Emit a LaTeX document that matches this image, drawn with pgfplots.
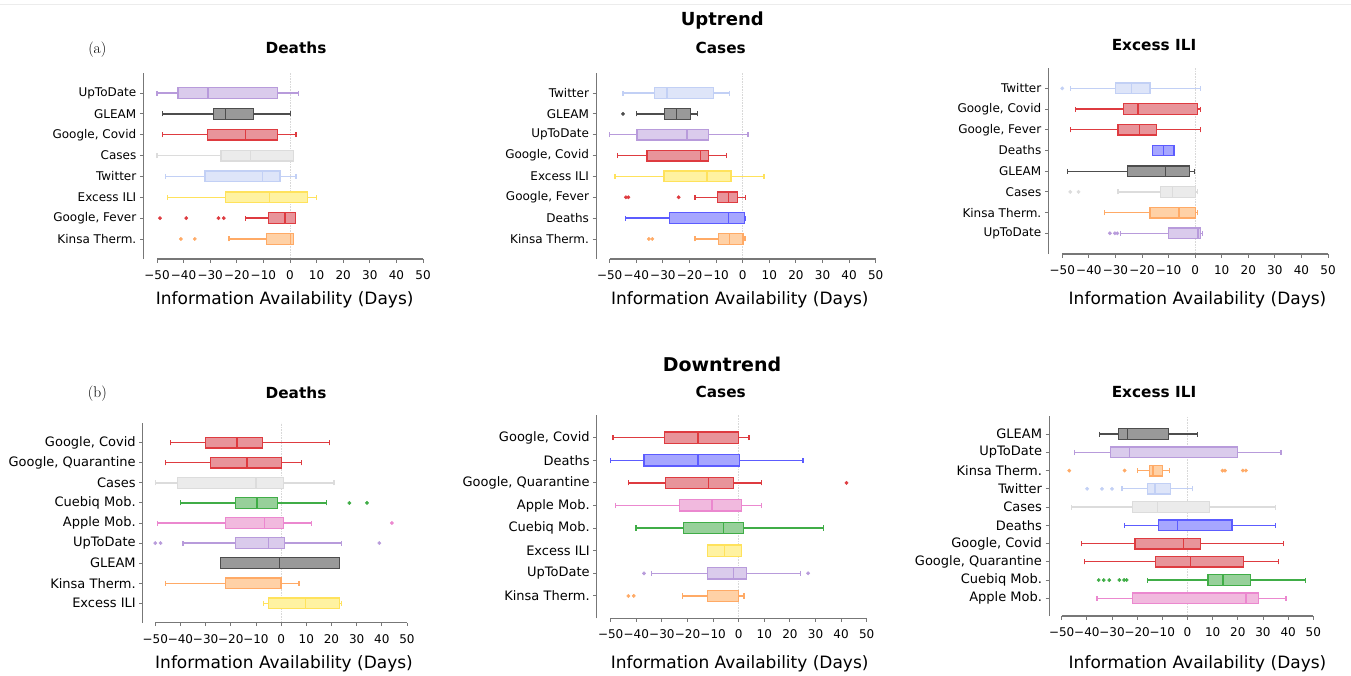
\documentclass[border=0pt]{standalone}
\usepackage{pgfplots}
\pgfplotsset{compat=1.18}
\usepgfplotslibrary{statistics}
\usepackage{fontspec}
\newfontfamily\dv{DejaVu Sans}
\newcommand{\fs}[1]{\fontsize{#1}{#1}\selectfont}
\definecolor{upL}{HTML}{B89BDB}\definecolor{upF}{HTML}{DACBEC}
\definecolor{glL}{HTML}{4D4D4D}\definecolor{glF}{HTML}{999999}
\definecolor{goL}{HTML}{DE3B40}\definecolor{goF}{HTML}{E8949A}
\definecolor{caL}{HTML}{DCDCDC}\definecolor{caF}{HTML}{EBEBEB}
\definecolor{twL}{HTML}{C2D0F5}\definecolor{twF}{HTML}{DEE5F9}
\definecolor{exL}{HTML}{FFE25C}\definecolor{exF}{HTML}{FFF2A1}
\definecolor{deL}{HTML}{5C5CFF}\definecolor{deF}{HTML}{A6A6FF}
\definecolor{kiL}{HTML}{FFAA66}\definecolor{kiF}{HTML}{FFD1A6}
\definecolor{cuL}{HTML}{40AD47}\definecolor{cuF}{HTML}{97D09A}
\definecolor{apL}{HTML}{EB88CF}\definecolor{apF}{HTML}{F1B9DE}
\definecolor{axg}{HTML}{777777}
\definecolor{zg}{HTML}{D8D8D8}
\pgfplotsset{
  bx/.style={mark=none, solid, line width=1.3pt, draw=#1L, fill=#1F,
    boxplot/every box/.style={draw=#1L, fill=#1F, line width=1.3pt},
    boxplot/every whisker/.style={draw=#1L, line width=1.3pt},
    boxplot/every median/.style={draw=#1L, line width=1.5pt}},
  ol/.style={only marks, mark=*, mark size=1.7pt, draw=#1L, fill=#1L, mark options={draw=#1L, fill=#1L}},
  panel/.style={
    scale only axis, anchor=south west, xmax=50,
    axis x line*=bottom, axis y line*=left,
    x axis line style={draw=none},
    y axis line style={draw=axg, line width=1pt},
    xtick={-50,-40,...,50},
    xticklabels={−50,−40,−30,−20,−10,0,10,20,30,40,50},
    tick align=outside, major tick length=3.5pt,
    tick style={draw=axg, line width=0.9pt},
    xticklabel style={font=\dv\fs{12}, text=black, yshift=-4.5pt},
    clip=false,
    boxplot/draw direction=x,
  }
}
\newcommand{\bp}[7]{\addplot[bx=#1, boxplot prepared={draw position=#2, lower whisker=#3, lower quartile=#4, median=#5, upper quartile=#6, upper whisker=#7}] coordinates {};}
\begin{document}
\begin{tikzpicture}[x=1pt,y=-1pt]
\useasboundingbox (0,0) rectangle (1351,675);
\draw[gray!15, line width=0.6pt] (0,4) -- (1351,4);
% ---------- titles ----------
\node[anchor=base, font=\dv\bfseries\fs{18}] at (722.3,25) {Uptrend};
\node[anchor=base, font=\dv\bfseries\fs{19}] at (722,371.7) {Downtrend};
\node[anchor=base, font=\fs{15.5}] at (97.3,53.4) {(a)};
\node[anchor=base, font=\fs{15.5}] at (97.3,397) {(b)};
\node[anchor=base, font=\dv\bfseries\fs{15.3}] at (296,53.3) {Deaths};
\node[anchor=base, font=\dv\bfseries\fs{15.3}] at (720.7,53.3) {Cases};
\node[anchor=base, font=\dv\bfseries\fs{15.3}] at (1154,50.3) {Excess ILI};
\node[anchor=base, font=\dv\bfseries\fs{15.3}] at (296,398.3) {Deaths};
\node[anchor=base, font=\dv\bfseries\fs{15.3}] at (720.7,397.7) {Cases};
\node[anchor=base, font=\dv\bfseries\fs{15.3}] at (1154,397.7) {Excess ILI};
\foreach \xx/\yy in {284.7/304, 739.8/304, 1197.5/304, 284/668.3, 739.7/668.3, 1197.5/668.3}
  \node[anchor=base, font=\dv\fs{17}] at (\xx,\yy) {Information Availability (Days)};

% ---------- Panel 1: Uptrend / Deaths ----------
\begin{axis}[panel, at={(143.3pt,-259pt)}, width=279.7pt, height=186pt,
  xmin=-55.15, ymin=0.04, ymax=8.96, ytick={1,...,8},
  yticklabels={Kinsa Therm., {Google, Fever}, Excess ILI, Twitter, Cases, {Google, Covid}, GLEAM, UpToDate},
  yticklabel style={font=\dv\fs{12}, text=black},
  boxplot/box extend=0.51, boxplot/whisker extend=0.24]
\draw[densely dotted, zg, line width=0.6pt] (axis cs:0,0.04) -- (axis cs:0,8.96);
\draw[axg, line width=1.2pt] (axis cs:-50,0.04) -- (axis cs:50,0.04);
\bp{ki}{1}{-22.9}{-8.9}{0.1}{1.3}{1.3}
\addplot[ol=ki] coordinates {(-41,1) (-35.8,1)};
\bp{go}{2}{-16.8}{-8.1}{-1.8}{2.1}{2.1}
\addplot[ol=go] coordinates {(-48.9,2) (-39,2) (-26.9,2) (-24.9,2)};
\bp{ex}{3}{-46}{-24.2}{-7.8}{6.5}{10}
\bp{tw}{4}{-46.9}{-32}{-10.4}{-3.8}{2.3}
\bp{ca}{5}{-50}{-25.9}{-14.9}{1.3}{1.3}
\bp{go}{6}{-48}{-31}{-16.8}{-4.8}{2.3}
\bp{gl}{7}{-48}{-28.8}{-24.3}{-13.8}{0.1}
\bp{up}{8}{-50}{-42.1}{-30.8}{-4.6}{3.1}
\end{axis}

% ---------- Panel 2: Uptrend / Cases ----------
\begin{axis}[panel, at={(596pt,-259pt)}, width=279.7pt, height=186pt,
  xmin=-55.15, ymin=0.04, ymax=8.96, ytick={1,...,8},
  yticklabels={Kinsa Therm., Deaths, {Google, Fever}, Excess ILI, {Google, Covid}, UpToDate, GLEAM, Twitter},
  yticklabel style={font=\dv\fs{12}, text=black},
  boxplot/box extend=0.51, boxplot/whisker extend=0.24]
\draw[densely dotted, zg, line width=0.6pt] (axis cs:0,0.04) -- (axis cs:0,8.96);
\draw[axg, line width=1.2pt] (axis cs:-50,0.04) -- (axis cs:50,0.04);
\bp{ki}{1}{-17.9}{-9.0}{-4.9}{0.1}{0.9}
\addplot[ol=ki] coordinates {(-35.3,1) (-34,1)};
\bp{de}{2}{-44}{-27.4}{-5.4}{0.6}{1.0}
\bp{go}{3}{-17.9}{-9.4}{-5.4}{-2.0}{1.0}
\addplot[ol=go] coordinates {(-43.9,3) (-43,3) (-24.1,3)};
\bp{ex}{4}{-48}{-29.6}{-13.5}{-4.4}{8.0}
\bp{go}{5}{-47}{-36}{-15.9}{-12.9}{-6.0}
\bp{up}{6}{-50}{-39.7}{-20.9}{-12.9}{2.0}
\bp{gl}{7}{-40}{-29.4}{-24.8}{-19.7}{-17.0}
\addplot[ol=gl] coordinates {(-45,7)};
\bp{tw}{8}{-45}{-33.1}{-28.4}{-10.9}{-5.0}
\end{axis}

% ---------- Panel 3: Uptrend / Excess ILI ----------
\begin{axis}[panel, at={(1048.3pt,-254pt)}, width=279.7pt, height=186.3pt,
  xmin=-55.27, ymin=0, ymax=9, ytick={1,...,8},
  yticklabels={UpToDate, Kinsa Therm., Cases, GLEAM, Deaths, {Google, Fever}, {Google, Covid}, Twitter},
  yticklabel style={font=\dv\fs{12}, text=black},
  boxplot/box extend=0.51, boxplot/whisker extend=0.24]
\draw[densely dotted, zg, line width=0.6pt] (axis cs:0,0) -- (axis cs:0,9);
\draw[axg, line width=1.2pt] (axis cs:-50,0) -- (axis cs:50,0);
\bp{up}{1}{-28.2}{-10.1}{1.0}{2.1}{2.8}
\addplot[ol=up] coordinates {(-32.1,1) (-30.2,1) (-29.3,1)};
\bp{ki}{2}{-34.1}{-17}{-6}{0.1}{0.9}
\bp{ca}{3}{-29}{-13.1}{-8.5}{0.1}{0.8}
\addplot[ol=ca] coordinates {(-47,3) (-43.9,3)};
\bp{gl}{4}{-48.1}{-25.5}{-11.1}{-2.1}{-0.2}
\bp{de}{5}{-16}{-16}{-12}{-8}{-8}
\bp{go}{6}{-47}{-29}{-21}{-14.5}{2.1}
\bp{go}{7}{-45.1}{-27.1}{-21.6}{0.9}{2.1}
\bp{tw}{8}{-47}{-30}{-24}{-17}{2.1}
\addplot[ol=tw] coordinates {(-50,8)};
\end{axis}

% ---------- Panel 4: Downtrend / Deaths ----------
\begin{axis}[panel, at={(142.7pt,-622.7pt)}, width=264.3pt, height=200pt,
  xmin=-55.0, ymin=0.03, ymax=10, ytick={1,...,9},
  yticklabels={Excess ILI, Kinsa Therm., GLEAM, UpToDate, Apple Mob., Cuebiq Mob., Cases, {Google, Quarantine}, {Google, Covid}},
  yticklabel style={font=\dv\fs{13}, text=black},
  boxplot/box extend=0.53, boxplot/whisker extend=0.25]
\draw[densely dotted, zg, line width=0.6pt] (axis cs:0,0.03) -- (axis cs:0,10);
\draw[axg, line width=1.2pt] (axis cs:-50,0.03) -- (axis cs:50,0.03);
\bp{ex}{1}{-7.0}{-5.1}{9.6}{23.1}{24.0}
\bp{ki}{2}{-46}{-22.1}{0.0}{0.1}{7.1}
\bp{gl}{3}{-24}{-24}{-0.6}{23.1}{23.1}
\bp{up}{4}{-39}{-18.1}{-5}{1.3}{24}
\addplot[ol=up] coordinates {(-50,4) (-47.9,4) (39,4)};
\bp{ap}{5}{-49.2}{-22.1}{-6.6}{1.0}{12}
\addplot[ol=ap] coordinates {(44,5)};
\bp{cu}{6}{-40.1}{-18.1}{-9.5}{-1.5}{18.1}
\addplot[ol=cu] coordinates {(27.1,6) (34.1,6)};
\bp{ca}{7}{-50}{-41.3}{-10}{1.0}{21}
\bp{go}{8}{-45.9}{-28}{-13.6}{0.1}{8.1}
\bp{go}{9}{-43.9}{-30.1}{-17.5}{-7.5}{19.1}
\end{axis}

% ---------- Panel 5: Downtrend / Cases ----------
\begin{axis}[panel, at={(596.7pt,-618.3pt)}, width=270pt, height=203.3pt,
  xmin=-55.47, ymin=0.01, ymax=9, ytick={1,...,8},
  yticklabels={Kinsa Therm., UpToDate, Excess ILI, Cuebiq Mob., Apple Mob., {Google, Quarantine}, Deaths, {Google, Covid}},
  yticklabel style={font=\dv\fs{13}, text=black},
  boxplot/box extend=0.5, boxplot/whisker extend=0.23]
\draw[densely dotted, zg, line width=0.6pt] (axis cs:0,0.01) -- (axis cs:0,9);
\draw[axg, line width=1.2pt] (axis cs:-50,0.01) -- (axis cs:50,0.01);
\bp{ki}{1}{-22}{-12.1}{0}{0}{2.1}
\addplot[ol=ki] coordinates {(-43.1,1) (-41,1)};
\bp{up}{2}{-34}{-12.1}{-2.1}{3.0}{24.1}
\addplot[ol=up] coordinates {(-37,2) (27.1,2)};
\bp{ex}{3}{-12.1}{-12.1}{-5.5}{1.0}{1.0}
\bp{cu}{4}{-40.1}{-21.7}{-6.0}{1.8}{33.2}
\bp{ap}{5}{-48}{-23}{-10.4}{1.2}{9.0}
\bp{go}{6}{-43}{-28.5}{-11.8}{-2.1}{9.0}
\addplot[ol=go] coordinates {(42.1,6)};
\bp{de}{7}{-50}{-37}{-16}{0.4}{25.1}
\bp{go}{8}{-49.1}{-29}{-16}{0}{4}
\end{axis}

% ---------- Panel 6: Downtrend / Excess ILI ----------
\begin{axis}[panel, at={(1049pt,-616pt)}, width=264.3pt, height=200pt,
  xmin=-55.05, ymin=0.03, ymax=10.99, ytick={1,...,10},
  yticklabels={Apple Mob., Cuebiq Mob., {Google, Quarantine}, {Google, Covid}, Deaths, Cases, Twitter, Kinsa Therm., UpToDate, GLEAM},
  yticklabel style={font=\dv\fs{13}, text=black},
  boxplot/box extend=0.58, boxplot/whisker extend=0.27]
\draw[densely dotted, zg, line width=0.6pt] (axis cs:0,0.03) -- (axis cs:0,10.99);
\draw[axg, line width=1.2pt] (axis cs:-50,0.03) -- (axis cs:50,0.03);
\bp{ap}{1}{-36}{-21.9}{23.2}{28.1}{39.1}
\bp{cu}{2}{-16}{8.1}{14.1}{25}{47}
\addplot[ol=cu] coordinates {(-35.3,2) (-33.3,2) (-31.1,2) (-27.1,2) (-25.2,2) (-24.2,2)};
\bp{go}{3}{-41}{-12.7}{1.1}{22.2}{36.1}
\bp{go}{4}{-42.1}{-20.9}{-1.5}{5.1}{38.1}
\bp{de}{5}{-25}{-11.5}{-3.9}{17.7}{35}
\bp{ca}{6}{-46.2}{-21.9}{-12}{8.7}{35}
\bp{tw}{7}{-26}{-15.9}{-12.9}{-6.8}{2.1}
\addplot[ol=tw] coordinates {(-39.9,7) (-34,7) (-30,7)};
\bp{ki}{8}{-19.9}{-15}{-13.7}{-10}{-7.2}
\addplot[ol=ki] coordinates {(-47,8) (-25,8) (13.9,8) (14.9,8) (22,8) (23.2,8)};
\bp{up}{9}{-45}{-30.7}{-23}{19.9}{37.2}
\bp{gl}{10}{-35}{-27.5}{-23.9}{-7.6}{4}
\end{axis}
\end{tikzpicture}
\end{document}
